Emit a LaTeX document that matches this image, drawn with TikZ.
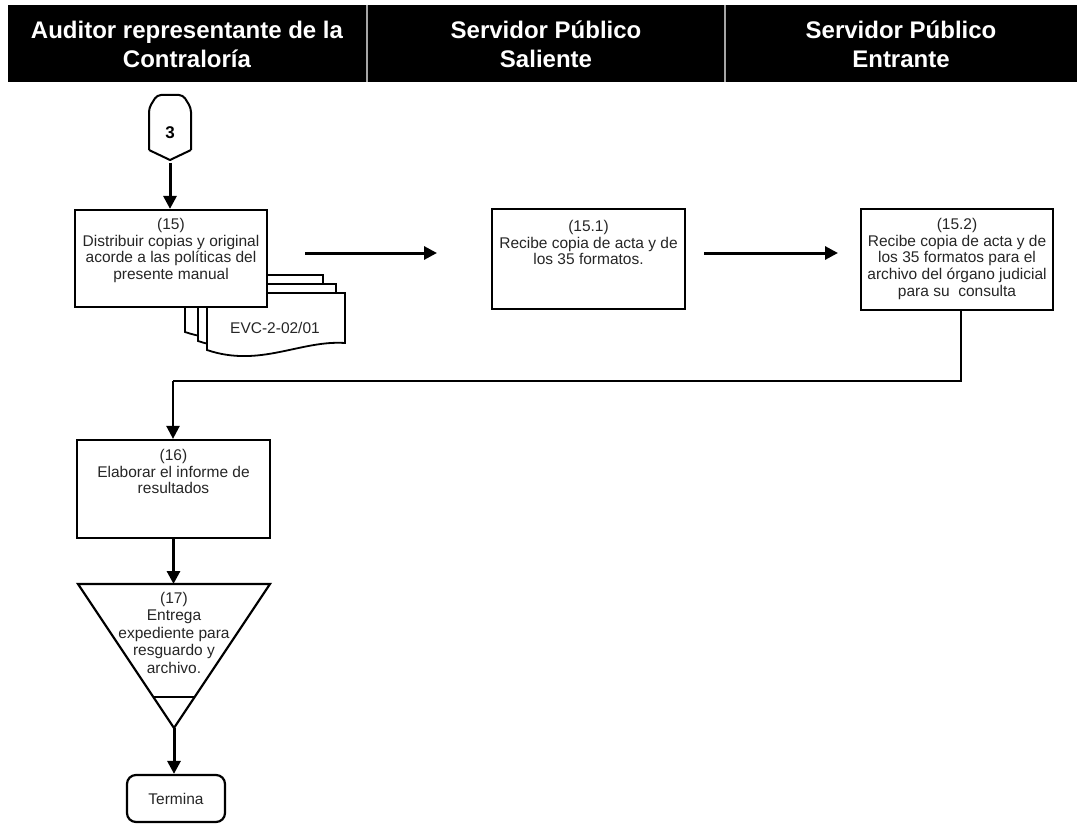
\documentclass[tikz,border=0pt]{standalone}
\usepackage{fontspec}
\setmainfont{Liberation Sans}
\newfontfamily\hdrfont{Liberation Sans}
\usetikzlibrary{arrows.meta,calc}
\tikzset{
  proc/.style={draw=black, line width=2.2pt, fill=white, inner sep=0pt},
  txt/.style={font=\fontsize{15.5}{16.8}\selectfont, align=center, inner sep=0pt, text=black!85},
  hdr/.style={font=\hdrfont\bfseries\fontsize{24}{29}\selectfont, align=center, text=white, inner sep=0pt},
  flow/.style={line width=3pt, -{Triangle[length=13pt,width=13pt]}},
  plainline/.style={line width=2.2pt},
  doc/.style={draw=black, line width=1.8pt, fill=white},
}
\newcommand{\docshape}[2]{%
  \path[doc] (#1,#2) -- ++(138,0) -- ++(0,50)
    .. controls ++(-45,-3) and ++(53,18) .. ++(-138,7) -- cycle;}
\begin{document}
\begin{tikzpicture}[x=1pt,y=-1pt]
\useasboundingbox (0,0) rectangle (1077,824);
% header
\fill[black] (8,5) rectangle (1077,82);
\draw[gray!70, line width=2pt] (367,5) -- (367,82);
\draw[gray!70, line width=2pt] (725,5) -- (725,82);
\node[hdr] (h1) at (187,44) {Auditor representante de la\\Contraloría};
\node[hdr] (h2) at (546,44) {Servidor Público\\Saliente};
\node[hdr] (h3) at (901,44) {Servidor Público\\Entrante};
% off-page connector 3
\draw[line width=2pt, fill=white, rounded corners=4pt] (149,150) -- (149,108) -- (157,95) -- (183,95) -- (191,108) -- (191,150);
\draw[line width=2pt] (191,150) -- (170,160) -- (149,150);
\node[font=\bfseries\fontsize{17}{19}\selectfont, inner sep=0pt] (c3) at (170,133) {3};
\coordinate (c3b) at (170,163);
% documents
\docshape{185}{275}
\docshape{198}{284}
\docshape{207}{293}
\node[txt] (doclbl) at (275,328) {EVC-2-02/01};
% boxes
\node[proc, minimum width=192pt, minimum height=97pt] (b15) at (171,258.5) {};
\node[txt, anchor=north] (t15) at ($(b15.north)+(0,9)$) {(15)\\Distribuir copias y original\\acorde a las políticas del\\presente manual};
\node[proc, minimum width=193pt, minimum height=100pt] (b151) at (588.5,259) {};
\node[txt, anchor=north] (t151) at ($(b151.north)+(0,12)$) {(15.1)\\Recibe copia de acta y de\\los 35 formatos.};
\node[proc, minimum width=192pt, minimum height=101pt] (b152) at (957,259.5) {};
\node[txt, anchor=north] (t152) at ($(b152.north)+(0,10)$) {(15.2)\\Recibe copia de acta y de\\los 35 formatos para el\\archivo del órgano judicial\\para su\ \ consulta};
\node[proc, minimum width=193pt, minimum height=98pt] (b16) at (173.5,489) {};
\node[txt, anchor=north] (t16) at ($(b16.north)+(0,10)$) {(16)\\Elaborar el informe de\\resultados};
% triangle
\coordinate (trl) at (78,584);
\coordinate (trr) at (270,584);
\coordinate (tra) at (174,728);
\draw[line width=2.2pt, fill=white] (trl) -- (trr) -- (tra) -- cycle;
\draw[line width=1.8pt] (153,697) -- (195,697);
\node[txt, anchor=north, font=\fontsize{15.5}{17.5}\selectfont] (t17) at (174,592) {(17)\\Entrega\\expediente para\\resguardo y\\archivo.};
% termina
\node[proc, rounded corners=9pt, minimum width=98pt, minimum height=47pt] (term) at (176,798.5) {};
\node[txt] (tterm) at (term.center) {Termina};
% arrows
\draw[flow] (c3b) -- (c3b |- b15.north);
\coordinate (a1s) at (305,253);
\coordinate (a1e) at (437,253);
\draw[flow] (a1s) -- (a1e);
\coordinate (a2s) at (704,253);
\coordinate (a2e) at (838,253);
\draw[flow] (a2s) -- (a2e);
\coordinate (e1) at (961,381);
\coordinate (e2) at (173,381);
\draw[plainline] (b152.south -| e1) -- (e1) -- (e2);
\draw[flow, line width=2.4pt] (e2) -- (e2 |- b16.north);
\draw[flow] (b16.south) -- (b16.south |- trl);
\draw[flow] (tra) -- (tra |- term.north);
\end{tikzpicture}
\end{document}
